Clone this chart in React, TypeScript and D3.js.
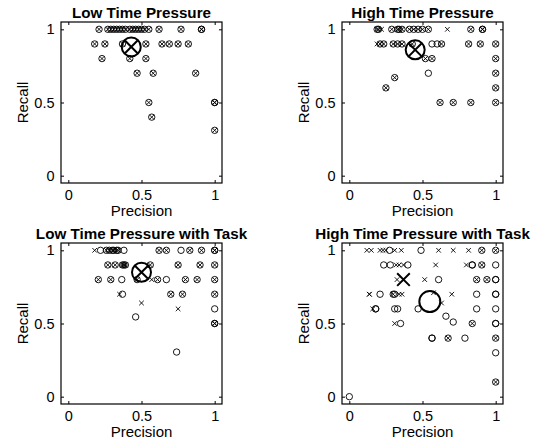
import React, { useEffect, useRef } from "react";
import * as d3 from "d3";

type Pt = [number, number, string];

const titles = [
  "Low Time Pressure",
  "High Time Pressure",
  "Low Time Pressure with Task",
  "High Time Pressure with Task",
];

const tickValues = [0, 0.5, 1];

// [precision, recall, marker]  marker: "ox" = both, "o" = circle, "x" = cross
const lowTP: Pt[] = [
  [0.21, 1, "ox"], [0.27, 1, "ox"], [0.29, 1, "ox"], [0.31, 1, "ox"], [0.33, 1, "ox"],
  [0.35, 1, "ox"], [0.37, 1, "ox"], [0.39, 1, "ox"], [0.42, 1, "ox"], [0.44, 1, "ox"],
  [0.46, 1, "ox"], [0.48, 1, "ox"], [0.5, 1, "ox"], [0.52, 1, "ox"], [0.55, 1, "ox"],
  [0.62, 1, "ox"], [0.77, 1, "ox"], [0.91, 1, "ox"], [0.91, 1, "ox"],
  [0.18, 0.9, "ox"], [0.25, 0.9, "ox"], [0.37, 0.9, "ox"], [0.53, 0.9, "ox"], [0.64, 0.9, "ox"],
  [0.69, 0.9, "ox"], [0.75, 0.9, "ox"], [0.82, 0.9, "ox"],
  [0.23, 0.8, "ox"], [0.42, 0.8, "ox"], [0.53, 0.8, "ox"],
  [0.47, 0.7, "ox"], [0.58, 0.7, "ox"], [0.87, 0.7, "ox"],
  [0.55, 0.5, "ox"], [1, 0.5, "ox"], [1, 0.5, "ox"],
  [0.57, 0.4, "ox"], [1, 0.31, "ox"],
];

const highTP: Pt[] = [
  [0.19, 1, "ox"], [0.2, 1, "ox"], [0.22, 1, "x"], [0.29, 1, "ox"], [0.33, 1, "ox"],
  [0.34, 1, "ox"], [0.36, 1, "ox"], [0.41, 1, "ox"], [0.44, 1, "ox"], [0.47, 1, "ox"],
  [0.5, 1, "ox"], [0.54, 1, "ox"], [0.67, 1, "x"], [0.83, 1, "ox"], [0.91, 1, "ox"], [0.91, 1, "ox"],
  [0.19, 0.9, "x"], [0.21, 0.9, "ox"], [0.235, 0.9, "ox"], [0.3, 0.9, "ox"], [0.33, 0.9, "ox"],
  [0.36, 0.9, "ox"], [0.43, 0.9, "ox"], [0.565, 0.9, "o"], [0.6, 0.9, "o"], [0.63, 0.9, "ox"],
  [0.815, 0.9, "ox"], [0.895, 0.9, "ox"], [1, 0.9, "ox"],
  [0.52, 0.8, "ox"], [0.565, 0.8, "ox"], [1, 0.8, "ox"],
  [0.54, 0.7, "o"], [1, 0.7, "ox"],
  [0.31, 0.67, "ox"],
  [0.25, 0.6, "ox"], [1, 0.6, "ox"],
  [0.62, 0.5, "ox"], [0.71, 0.5, "ox"], [0.83, 0.5, "ox"], [1, 0.5, "ox"],
];

const lowTPTask: Pt[] = [
  [0.18, 1, "x"], [0.22, 1, "o"], [0.26, 1, "ox"], [0.28, 1, "ox"], [0.3, 1, "ox"],
  [0.31, 1, "ox"], [0.33, 1, "ox"], [0.34, 1, "ox"], [0.38, 1, "o"], [0.62, 1, "ox"],
  [0.67, 1, "ox"], [0.77, 1, "o"], [0.83, 1, "ox"], [0.91, 1, "ox"], [1, 1, "ox"], [1, 1, "ox"],
  [0.27, 0.9, "ox"], [0.32, 0.9, "ox"], [0.37, 0.9, "ox"], [0.38, 0.9, "ox"], [0.39, 0.9, "ox"],
  [0.56, 0.9, "ox"], [0.75, 0.9, "ox"], [0.9, 0.9, "ox"], [1, 0.9, "ox"],
  [0.205, 0.8, "ox"], [0.29, 0.8, "ox"], [0.365, 0.8, "o"], [0.47, 0.8, "ox"], [0.57, 0.8, "x"],
  [0.61, 0.8, "ox"], [0.67, 0.8, "o"], [0.8, 0.8, "ox"], [0.88, 0.8, "ox"], [1, 0.8, "ox"],
  [0.35, 0.7, "x"], [0.37, 0.7, "o"], [0.7, 0.7, "ox"], [0.78, 0.7, "ox"], [1, 0.7, "ox"],
  [0.5, 0.64, "x"], [0.75, 0.6, "x"], [1, 0.6, "o"],
  [0.46, 0.545, "o"], [1, 0.5, "ox"], [1, 0.5, "ox"],
  [0.74, 0.305, "o"],
];

const highTPTask: Pt[] = [
  [0.12, 1, "x"], [0.15, 1, "x"], [0.21, 1, "x"], [0.23, 1, "x"], [0.25, 1, "x"],
  [0.275, 1, "o"], [0.31, 1, "x"], [0.355, 1, "x"], [0.49, 1, "o"], [0.61, 1, "x"],
  [0.71, 1, "x"], [0.815, 1, "x"], [0.905, 1, "ox"], [1, 1, "ox"],
  [0.235, 0.9, "o"], [0.28, 0.9, "o"], [0.32, 0.9, "x"], [0.34, 0.9, "x"], [0.37, 0.9, "x"],
  [0.4, 0.9, "o"], [0.59, 0.9, "x"], [0.8, 0.9, "x"], [0.84, 0.9, "o"], [0.84, 0.9, "o"],
  [0.905, 0.9, "ox"], [1, 0.9, "o"],
  [0.326, 0.8, "x"], [0.515, 0.8, "x"], [0.61, 0.8, "o"], [0.87, 0.8, "ox"], [0.94, 0.8, "ox"],
  [1, 0.8, "o"], [1, 0.8, "o"],
  [0.137, 0.7, "x"], [0.137, 0.7, "x"], [0.21, 0.7, "o"], [0.3, 0.7, "ox"], [0.31, 0.7, "o"],
  [0.34, 0.7, "x"], [0.36, 0.7, "x"], [0.575, 0.71, "x"], [0.7, 0.7, "x"], [0.63, 0.64, "x"],
  [0.87, 0.7, "o"], [1, 0.7, "o"], [1, 0.7, "o"],
  [0.16, 0.6, "x"], [0.18, 0.6, "o"], [0.18, 0.6, "o"], [0.31, 0.6, "o"], [0.33, 0.6, "o"],
  [0.47, 0.6, "o"], [0.87, 0.6, "o"], [1, 0.6, "o"],
  [0.66, 0.55, "o"], [0.71, 0.51, "o"],
  [0.31, 0.5, "x"], [0.35, 0.5, "o"], [0.84, 0.5, "ox"], [1, 0.5, "o"], [1, 0.5, "o"],
  [0.565, 0.4, "o"], [0.565, 0.4, "o"], [0.675, 0.4, "ox"], [0.79, 0.4, "o"], [1, 0.4, "ox"],
  [1, 0.3, "o"], [1, 0.1, "ox"], [0, 0, "o"],
];

const means: Pt[][] = [
  [[0.43, 0.88, "ox"]],
  [[0.45, 0.86, "ox"]],
  [[0.5, 0.85, "ox"]],
  [[0.37, 0.8, "x"], [0.55, 0.65, "o"]],
];

const panelData = [lowTP, highTP, lowTPTask, highTPTask];

const font = "'Liberation Sans', Arial, Helvetica, sans-serif";

function App() {
  const ref = useRef<SVGSVGElement>(null);

  useEffect(() => {
    const svg = d3.select(ref.current);
    svg.selectAll("*").remove();

    const size = 161;
    const lefts = [61, 342, 61, 342];
    const tops = [22, 22, 243, 243];

    const x = d3.scaleLinear().domain([-0.05, 1.05]).range([0, size]);
    const y = d3.scaleLinear().domain([-0.05, 1.05]).range([size, 0]);

    const drawMarker = (g: any, d: Pt, r: number, h: number, sw: number) => {
      const cx = x(d[0]), cy = y(d[1]);
      if (d[2].includes("o")) {
        g.append("circle").attr("cx", cx).attr("cy", cy).attr("r", r)
          .attr("fill", "none").attr("stroke", "#000").attr("stroke-width", sw);
      }
      if (d[2].includes("x")) {
        g.append("path")
          .attr("d", `M${cx - h},${cy - h}L${cx + h},${cy + h}M${cx - h},${cy + h}L${cx + h},${cy - h}`)
          .attr("stroke", "#000").attr("stroke-width", sw).attr("fill", "none");
      }
    };

    panelData.forEach((data, i) => {
      const g = svg.append("g").attr("transform", `translate(${lefts[i]},${tops[i]})`);

      const bottom = g.append("g").attr("transform", `translate(0,${size})`)
        .call(d3.axisBottom(x).tickValues(tickValues).tickSize(-3).tickPadding(7)
          .tickFormat((d: any) => String(d)));
      const left = g.append("g")
        .call(d3.axisLeft(y).tickValues(tickValues).tickSize(-3).tickPadding(6.5)
          .tickFormat((d: any) => String(d)));
      g.append("g").call(d3.axisTop(x).tickValues(tickValues).tickSize(-3).tickFormat(() => ""));
      g.append("g").attr("transform", `translate(${size},0)`)
        .call(d3.axisRight(y).tickValues(tickValues).tickSize(-3).tickFormat(() => ""));

      g.selectAll(".domain").remove();
      g.selectAll(".tick line").attr("stroke", "#000");
      [bottom, left].forEach(a => a.selectAll("text")
        .style("font-family", font).style("font-size", "14.5px").attr("fill", "#000"));

      g.append("rect").attr("width", size).attr("height", size)
        .attr("fill", "none").attr("stroke", "#000").attr("stroke-width", 1.2);

      data.forEach(d => drawMarker(g, d, 3.2, 2.3, 0.9));
      means[i].forEach(d => drawMarker(g, d, i === 3 ? 10.5 : 9.5, 6.3, 2));

      g.append("text").attr("x", size / 2).attr("y", -4)
        .attr("text-anchor", "middle").style("font-family", font)
        .style("font-size", "15.2px").style("font-weight", "bold").text(titles[i]);

      g.append("text").attr("x", size / 2).attr("y", size + 33)
        .attr("text-anchor", "middle").style("font-family", font)
        .style("font-size", "15px").text("Precision");

      g.append("text").attr("transform", `translate(-33,${size / 2}) rotate(-90)`)
        .attr("text-anchor", "middle").style("font-family", font)
        .style("font-size", "15px").text("Recall");
    });
  }, []);

  return (
    <svg ref={ref} width={535} height={443}
      style={{ position: "absolute", left: 0, top: 0, background: "#fff" }} />
  );
}

export default App;
